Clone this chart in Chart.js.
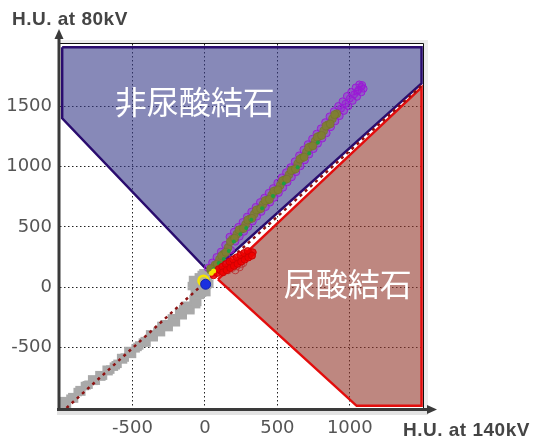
<!DOCTYPE html>
<html>
<head>
<meta charset="utf-8">
<script src="https://cdn.jsdelivr.net/npm/chart.js@4/dist/chart.umd.min.js"></script>
<style>
  html, body { margin: 0; padding: 0; background: #fff; }
</style>
</head>
<body>
<canvas id="dualEnergy" width="533" height="440"></canvas>
<script>
// tick labels on each axis
const xTicks = [-500, 0, 500, 1000];
const yTicks = [-500, 0, 500, 1000, 1500];

// region outlines, [HU at 140kV, HU at 80kV]
const nonUricRegion = [[-985, 1988], [1495, 1988], [1495, 1688], [37, 116], [-985, 1400], [-985, 1988]];
const uricRegion = [[90, 66], [1495, 1655], [1495, -982], [1047, -982], [90, 66]];
const refLine = [[-955, -1000], [1495, 1670]];

// region labels: text, x, y
const regionLabels = [['非尿酸結石', -70, 1533], ['尿酸結石', 986, 27]];

// voxels
const grayPts = [
  [-990, -985], [-977, -943], [-952, -967], [-928, -923], [-903, -922], [-878, -868], [-853, -864],
  [-828, -818], [-803, -807], [-778, -763], [-753, -774], [-728, -728], [-703, -732], [-678, -683],
  [-653, -682], [-628, -658], [-603, -634], [-578, -586], [-553, -582], [-528, -528], [-503, -552],
  [-478, -506], [-453, -482], [-428, -458], [-403, -458], [-378, -390], [-353, -414], [-328, -368],
  [-303, -372], [-278, -306], [-253, -307], [-228, -258], [-203, -257], [-178, -208], [-153, -232],
  [-128, -153], [-103, -177], [-78, -98], [-53, -122], [-33, -63], [-20, -45],
  [-965, -955], [-915, -910], [-865, -852], [-815, -812], [-765, -775], [-715, -740], [-665, -695],
  [-615, -646], [-565, -598], [-515, -540], [-465, -494], [-415, -446], [-365, -402], [-315, -360],
  [-265, -318], [-215, -270], [-165, -220], [-115, -165], [-65, -110],
  [-300, -320], [-250, -330], [-200, -290], [-150, -180], [-100, -190], [-60, -140],
  [-60, 0], [-72, 30], [-52, 52], [-42, 82], [-22, 102], [-10, 116], [10, 100], [20, 60],
  [30, 30], [-20, 20], [0, -20], [-82, 60], [-90, 10], [-40, -10], [10, -40], [-70, -30],
  [-30, 60], [15, 20]
];
const redPts = [
  [60, 100], [85, 118], [110, 135], [135, 152], [160, 170], [185, 187], [210, 205], [235, 222],
  [260, 240], [285, 257], [310, 275], [330, 290],
  [95, 150], [120, 170], [145, 192], [170, 212], [195, 230], [220, 248], [245, 266], [270, 283],
  [295, 300],
  [125, 124], [150, 142], [175, 159], [200, 177], [225, 194], [250, 212], [275, 229],
  [300, 247], [325, 262]
];
const redRingPts = [
  [160, 140], [190, 160], [220, 175], [250, 190], [210, 140], [240, 165], [265, 200]
];
const purplePts = [
  [20, 160], [60, 120], [50, 205], [90, 165], [80, 250], [120, 210], [110, 295], [150, 255],
  [140, 350], [180, 310], [170, 418], [210, 378], [200, 460], [240, 420], [230, 500], [270, 460],
  [260, 540], [300, 500], [290, 585], [330, 545], [320, 626], [360, 586], [350, 665], [390, 625],
  [380, 705], [420, 665], [410, 742], [450, 702], [440, 782], [480, 742], [470, 821], [510, 781],
  [500, 865], [540, 825], [530, 910], [570, 870], [560, 952], [600, 912], [590, 994], [630, 954],
  [620, 1043], [660, 1003], [650, 1092], [690, 1052], [680, 1140], [720, 1100], [710, 1185],
  [750, 1145], [740, 1230], [780, 1190], [770, 1272], [810, 1232], [800, 1316], [840, 1276],
  [830, 1367], [870, 1327], [860, 1415], [900, 1375], [890, 1458], [930, 1418], [920, 1501],
  [960, 1461], [950, 1540], [990, 1500], [980, 1584], [1020, 1544], [1010, 1618], [1050, 1578],
  [1040, 1655], [1080, 1615], [1065, 1680], [1095, 1645],
  [940, 1481], [970, 1520], [1000, 1564], [1030, 1598], [1060, 1635], [1080, 1660], [1050, 1620],
  [1085, 1675]
];
const olivePts = [
  [40, 140], [70, 185], [100, 230], [130, 275], [160, 330], [190, 398], [220, 440], [250, 480],
  [280, 520], [310, 565], [340, 606], [370, 645], [400, 685], [430, 722], [460, 762], [490, 801],
  [520, 845], [550, 890], [580, 932], [610, 974], [640, 1023], [670, 1072], [700, 1120], [730, 1165],
  [760, 1210], [790, 1252], [820, 1296], [850, 1347], [880, 1395], [910, 1438],
  [40, 155], [85, 193], [115, 261], [145, 290], [175, 378], [205, 406], [235, 474], [265, 486],
  [295, 557], [325, 571], [355, 640], [385, 651], [415, 717], [445, 728], [475, 796], [505, 807],
  [535, 882], [565, 896], [595, 967], [625, 980], [655, 1061], [685, 1078], [715, 1157], [745, 1171],
  [775, 1244], [805, 1258], [835, 1335], [865, 1353], [895, 1430]
];
const greenPts = [
  [95, 200], [165, 300], [245, 440], [320, 560], [395, 655], [470, 755], [545, 860], [640, 995],
  [720, 1110], [285, 490], [130, 235], [780, 1200], [60, 150], [200, 380]
];
const yellowPts = [[-10, 55]];
const yellowSmallPts = [[44, 116], [60, 135]];
const bluePts = [[5, 25]];

const toXY = arr => arr.map(p => ({ x: p[0], y: p[1] }));

const decorPlugin = {
  id: 'decor',
  beforeDraw(chart) {
    const { ctx, chartArea: a } = chart;
    ctx.save();
    ctx.fillStyle = '#ececec';
    ctx.fillRect(a.left, a.top - 4, a.right - a.left + 5, 4);
    ctx.fillRect(a.right, a.top - 4, 5, a.bottom - a.top + 4);
    ctx.fillStyle = '#e3e3e3';
    ctx.fillRect(a.left - 3, a.bottom + 3, a.right - a.left + 8, 4);
    ctx.restore();
  },
  afterDatasetsDraw(chart) {
    const { ctx, chartArea: a, scales } = chart;
    ctx.save();
    // frame
    ctx.strokeStyle = '#111';
    ctx.lineWidth = 1;
    ctx.beginPath();
    ctx.moveTo(a.left, a.top - 0.5);
    ctx.lineTo(a.right + 0.5, a.top - 0.5);
    ctx.lineTo(a.right + 0.5, a.bottom);
    ctx.stroke();
    // axes with arrows
    ctx.strokeStyle = '#3a3a3a';
    ctx.fillStyle = '#3a3a3a';
    ctx.lineWidth = 3;
    ctx.beginPath();
    ctx.moveTo(a.left - 1, a.bottom + 2);
    ctx.lineTo(a.left - 1, 36);
    ctx.moveTo(a.left - 3, a.bottom + 1.5);
    ctx.lineTo(a.right + 6, a.bottom + 1.5);
    ctx.stroke();
    ctx.beginPath();
    ctx.moveTo(a.left - 1, 29);
    ctx.lineTo(a.left - 5.5, 39);
    ctx.lineTo(a.left + 3.5, 39);
    ctx.closePath();
    ctx.fill();
    ctx.beginPath();
    ctx.moveTo(a.right + 14, a.bottom + 1.5);
    ctx.lineTo(a.right + 4, a.bottom - 3);
    ctx.lineTo(a.right + 4, a.bottom + 6);
    ctx.closePath();
    ctx.fill();
    // region labels
    ctx.fillStyle = '#fff';
    ctx.font = '32px "Noto Sans CJK JP"';
    ctx.textAlign = 'center';
    ctx.textBaseline = 'middle';
    regionLabels.forEach(([t, x, y]) => {
      ctx.fillText(t, scales.x.getPixelForValue(x), scales.y.getPixelForValue(y));
    });
    // axis titles
    ctx.fillStyle = '#444';
    ctx.font = 'bold 19px "Liberation Sans"';
    ctx.letterSpacing = '0.5px';
    ctx.textAlign = 'left';
    ctx.textBaseline = 'alphabetic';
    ctx.fillText('H.U. at 80kV', 12, 25);
    ctx.fillText('H.U. at 140kV', 403, 436);
    ctx.restore();
  }
};

const tickFont = { family: 'DejaVu Sans', size: 18 };

const ctxDE = document.getElementById('dualEnergy').getContext('2d');
const chartDE = new Chart(ctxDE, {
  type: 'scatter',
  data: {
    datasets: [
      {
        data: toXY(nonUricRegion), showLine: true, fill: 'shape', order: 12,
        backgroundColor: 'rgba(55,58,137,0.6)', borderColor: '#2a0c6e', borderWidth: 2.5,
        pointRadius: 0, borderJoinStyle: 'miter'
      },
      {
        data: toXY(uricRegion), showLine: true, fill: 'shape', order: 11,
        backgroundColor: 'rgba(147,55,43,0.6)', borderColor: '#e30d0d', borderWidth: 2.5,
        pointRadius: 0, borderJoinStyle: 'miter'
      },
      {
        data: toXY(grayPts), order: 10, pointStyle: 'rect', pointRadius: 6,
        backgroundColor: '#a9a9a9', borderWidth: 0
      },
      {
        data: toXY(refLine), showLine: true, order: 9, pointRadius: 0,
        borderColor: '#8e1212', borderWidth: 2.5, borderDash: [3, 4]
      },
      {
        data: toXY(purplePts), order: 8, pointRadius: 3.5,
        backgroundColor: 'rgba(155,24,212,0.35)', borderColor: '#9a1ad6', borderWidth: 1
      },
      {
        data: toXY(olivePts), order: 7, pointRadius: 4,
        backgroundColor: 'rgba(127,128,50,0.9)', borderColor: '#6f7028', borderWidth: 0.5
      },
      {
        data: toXY(greenPts), order: 6, pointRadius: 2,
        backgroundColor: '#1f9f3f', borderWidth: 0
      },
      {
        data: toXY(redRingPts), order: 5, pointRadius: 3.5,
        backgroundColor: 'rgba(0,0,0,0)', borderColor: '#b83a3a', borderWidth: 1
      },
      {
        data: toXY(redPts), order: 4, pointRadius: 3.5,
        backgroundColor: 'rgba(240,0,0,0.85)', borderColor: '#d00000', borderWidth: 1
      },
      {
        data: toXY(yellowSmallPts), order: 3, pointRadius: 2.5,
        backgroundColor: '#f5e600', borderWidth: 0
      },
      {
        data: toXY(yellowPts), order: 2, pointRadius: 5,
        backgroundColor: 'rgba(255,240,0,0.2)', borderColor: '#f5e600', borderWidth: 2.5
      },
      {
        data: toXY(bluePts), order: 1, pointRadius: 5,
        backgroundColor: '#1a2fe0', borderColor: '#0d1fb0', borderWidth: 1
      }
    ]
  },
  options: {
    responsive: false,
    animation: false,
    layout: { padding: { top: 44, right: 110, left: 0, bottom: 0 } },
    plugins: { legend: { display: false }, tooltip: { enabled: false } },
    scales: {
      x: {
        type: 'linear', min: -1000, max: 1505,
        afterBuildTicks: s => { s.ticks = xTicks.map(v => ({ value: v })); },
        afterFit: s => { s.height = 32; },
        grid: { color: '#222', lineWidth: 1, drawTicks: false },
        border: { display: false, dash: [1.5, 2.5] },
        ticks: { color: '#555', font: tickFont, padding: 10, callback: v => String(v) }
      },
      y: {
        type: 'linear', min: -1000, max: 2015,
        afterBuildTicks: s => { s.ticks = yTicks.map(v => ({ value: v })); },
        afterFit: s => { s.width = 60; },
        grid: { color: '#222', lineWidth: 1, drawTicks: false },
        border: { display: false, dash: [1.5, 2.5] },
        ticks: { color: '#555', font: tickFont, padding: 8, callback: v => String(v) }
      }
    }
  },
  plugins: [decorPlugin]
});
</script>
</body>
</html>
